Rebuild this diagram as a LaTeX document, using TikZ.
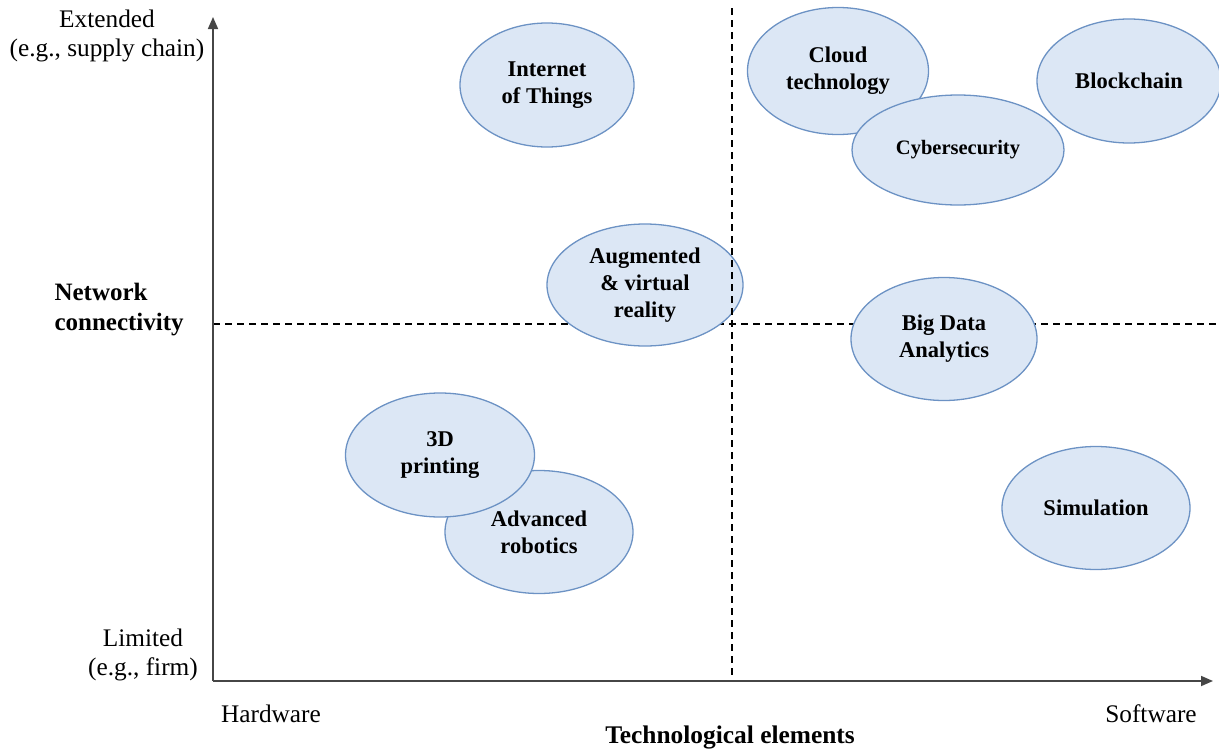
\documentclass[tikz,border=0pt]{standalone}
\usepackage{fontspec}
\setmainfont{Liberation Serif}
\usetikzlibrary{shapes.geometric,arrows.meta}
\definecolor{ellfill}{RGB}{220,231,245}
\definecolor{elldraw}{RGB}{108,146,196}
\definecolor{axisgray}{RGB}{70,70,70}
\tikzset{
  tech/.style={ellipse, draw=elldraw, fill=ellfill, line width=1.3pt, inner sep=0pt,
    align=center, font=\fontsize{22.5}{27}\selectfont\bfseries},
  axislab/.style={font=\fontsize{25.3}{28.5}\selectfont, align=center},
  axisline/.style={draw=axisgray, line width=1.7pt, -{Triangle[length=12pt,width=10pt]}},
  quadline/.style={draw=black, line width=1.1pt, dash pattern=on 7pt off 5pt},
}
\begin{document}
\begin{tikzpicture}[x=1pt,y=-1pt]
\useasboundingbox (0,0) rectangle (1219,750);
% coordinates
\coordinate (O) at (213,681);
\coordinate (ytip) at (213,17);
\coordinate (xtip) at (1213,681);
\coordinate (hl) at (213,324);
\coordinate (hr) at (1219,324);
\coordinate (vt) at (732,8);
\coordinate (vb) at (732,681);
% horizontal dashed line (under ellipses)
\draw[quadline] (hl) -- (hr);
% ellipses
\node[tech, minimum width=174pt, minimum height=124pt] (iot) at (547,85) {Internet\\of Things};
\node[tech, minimum width=196pt, minimum height=122pt] (ar) at (645,285) {Augmented\\\& virtual\\reality};
\node[tech, minimum width=181pt, minimum height=127pt] (cloud) at (838,71) {Cloud\\technology};
\node[tech, minimum width=212pt, minimum height=110pt, font=\fontsize{20.5}{24}\selectfont\bfseries] (cyber) at (958,150) {Cybersecurity};
\node[tech, minimum width=184pt, minimum height=124pt] (block) at (1129,81) {Blockchain};
\node[tech, minimum width=186pt, minimum height=123pt] (bigdata) at (944,339) {Big Data\\Analytics};
\node[tech, minimum width=188pt, minimum height=123pt] (sim) at (1096,508) {Simulation};
\node[tech, minimum width=188pt, minimum height=123pt] (robot) at (539,532) {Advanced\\robotics};
\node[tech, minimum width=189pt, minimum height=124pt] (print) at (440,455) {3D\\printing};
% vertical dashed line (over ellipses)
\draw[quadline] (vt) -- (vb);
% axes
\draw[axisline] (O) -- (ytip);
\draw[axisline] (O) -- (xtip);
% axis labels
\node[axislab] (ext) at (107,36) {Extended\\(e.g.,\ supply chain)};
\node[axislab] (lim) at (143,655) {Limited\\(e.g.,\ firm)};
\node[axislab, anchor=west, align=left, font=\fontsize{25}{30}\selectfont\bfseries] (net) at (51,310) {Network\\connectivity};
\node[axislab] (hw) at (271,714) {Hardware};
\node[axislab] (sw) at (1151,714) {Software};
\node[axislab, font=\fontsize{25.4}{28.5}\selectfont\bfseries] (tech) at (730,737) {Technological elements};
\end{tikzpicture}
\end{document}
